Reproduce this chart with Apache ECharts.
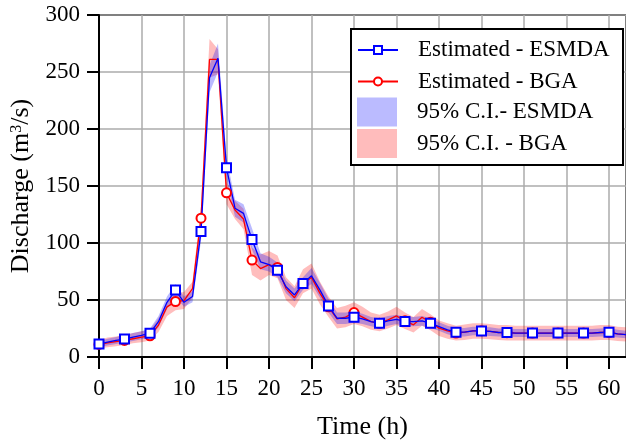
<!DOCTYPE html>
<html><head><meta charset="utf-8">
<script src="https://cdn.jsdelivr.net/npm/echarts@6/dist/echarts.min.js"></script>
<style>html,body{margin:0;padding:0;background:#fff}#c{width:626px;height:445px}</style>
</head><body><div id="c"></div>
<script>
const hours = [0,1,2,3,4,5,6,7,8,9,10,11,12,13,14,15,16,17,18,19,20,21,22,23,24,25,26,27,28,29,30,31,32,33,34,35,36,37,38,39,40,41,42,43,44,45,46,47,48,49,50,51,52,53,54,55,56,57,58,59,60,61,62];
const esmda = [11.3,13,14.5,15.7,17.5,19,20.9,31,48,58.7,48,53,110,245,262,166,130.5,126,103,83.5,81,76,61.6,54.4,64.5,71.2,58.7,44.8,34,34,34.9,33.4,31.1,29.6,31.7,33.1,31.1,31.1,31.7,29.6,26.7,23.8,21.8,21.8,22.9,22.9,22.4,21.5,21.5,21,21,21,21,21,21,21,21,21,21,21.5,21.8,20.3,19.6];
const bga = [11,12.5,13.5,14.5,16,17.5,18.6,28,44,48.6,49.5,60,121.8,261,261,144,129,121,85,77.6,81,78.5,60,52,64.5,69.8,55.8,44,33.5,35,39,35,31,29.6,32.5,36,31.7,28.2,34.9,30.5,25.3,22.9,21,21.8,22.9,23,22.4,21.5,21.3,21,21,21,21,21,21,21,21,21,21,21.5,21.5,20.3,19.6];
const esmdaLow = [8.5,10,11.5,12.5,14,15.5,17,26,42,53,44,48,102,232,250,156,123,118,94,77,75,70,56,49,59,64,52,39,29,29,30,29,27,25.5,27.5,29,27,27,27.5,25.5,23,20,18,18,19,19,18.5,18,18,17.5,17.5,17.5,17.5,17.5,17.5,17.5,17.5,17.5,17.5,18,18,17,16.5];
const esmdaUp = [14,16,17.5,19,21,22.5,25,36,53,64,53,58,118,256,275,175,138,134,113,91,88,83,67,60,70,78,65,51,39,39,40,38,35,34,36,37,35,35,36,34,30.5,27.5,25.5,25.5,26.5,26.5,26,25,25,24.5,24.5,24.5,24.5,24.5,24.5,24.5,24.5,24.5,24.5,25,25.5,24,23];
const bgaLow = [7.5,8.5,9.5,10.5,12,13,14.5,22,36,41,42,52,112,245,248,134,121,112,72,67,72,69,50,43,56,60,46,35,25,26,29,27,24,22.5,25,28,24.5,21.5,27.5,23.5,18.5,16,14.5,15,16,16,15.5,15,14.5,14.5,14.5,14.5,14.5,14.5,14.5,14.5,14.5,14.5,14.5,15,15,14,13.5];
const bgaUp = [15,17,18,19.5,21,22.5,24,34,49,56,57,66,132,279,270,154,137,130,96,90,93,89,70,62,77,82,66,53,43,45,48,44,39,37,40,44,39,35,42,37.5,32,29.5,27.5,28.5,29.5,29.5,29,28,28,27.5,27.5,27.5,27.5,27.5,27.5,27.5,27.5,27.5,27.5,28,28,26.5,26];
const xTicks = {min:0, max:62, interval:5};
const yTicks = {min:0, max:300, interval:50};
const names = ['Estimated - ESMDA','Estimated - BGA','95% C.I.- ESMDA','95% C.I. - BGA'];

const FONT = 'Liberation Serif';
const marked = (arr, sym) => hours.map((h,i)=>({value:[h, arr[i]], symbol: (h % 3 === 0) ? sym : 'none'}));

function bandSeries(name, lo, up, fill){
  return {
    type:'custom', name:name, z:2, silent:true,
    itemStyle:{color:fill},
    data: hours.map((h,i)=>[h, lo[i], up[i]]),
    encode:{x:0, y:[1,2]},
    renderItem:function(params, api){
      if (params.dataIndex !== 0) return null;
      const top = hours.map((h,i)=>api.coord([h, up[i]]));
      const bot = hours.map((h,i)=>api.coord([h, lo[i]])).reverse();
      return {type:'polygon', shape:{points: top.concat(bot)},
        style:{fill:fill, stroke:null}};
    }
  };
}

const chart = echarts.init(document.getElementById('c'), null, {renderer:'canvas'});
const axisCommon = {
  axisLine:{show:true, lineStyle:{color:'#000', width:2}},
  axisTick:{show:true, inside:false, length:12, lineStyle:{color:'#000', width:2}},
  splitLine:{show:true, lineStyle:{color:'#ababab', width:1.5}},
  axisLabel:{color:'#000', fontFamily:FONT, fontSize:23}
};
chart.setOption({
  animation:false,
  backgroundColor:'#fff',
  grid:{left:99, top:15, width:529, height:344, show:true, borderColor:'#000', borderWidth:2},
  xAxis:Object.assign({}, axisCommon, {
    type:'value', min:xTicks.min, max:xTicks.max, interval:xTicks.interval,
    name:'Time (h)', nameLocation:'middle', nameGap:57,
    nameTextStyle:{color:'#000', fontFamily:FONT, fontSize:26},
    axisLabel:Object.assign({}, axisCommon.axisLabel, {margin:20, showMaxLabel:false})
  }),
  yAxis:Object.assign({}, axisCommon, {
    type:'value', min:yTicks.min, max:yTicks.max, interval:yTicks.interval,
    name:'Discharge (m{sup|3}/s)', nameLocation:'middle', nameGap:64,
    nameTextStyle:{color:'#000', fontFamily:FONT, fontSize:26,
      rich:{sup:{fontFamily:FONT, fontSize:16, verticalAlign:'top', padding:[0,0,10,0]}}},
    axisLabel:Object.assign({}, axisCommon.axisLabel, {margin:19})
  }),
  graphic:[{type:'rect', z:3, shape:{x:351, y:29, width:272, height:136},
    style:{fill:'#fff', stroke:'#000', lineWidth:2}}],
  legend:[
    {data:[names[0], names[1]], orient:'vertical', left:357, top:38, padding:0,
     itemWidth:40, itemHeight:10, itemGap:7.5, z:5,
     textStyle:{fontFamily:FONT, fontSize:23, color:'#000', lineHeight:24, padding:[0,0,0,15]}},
    {data:[{name:names[2], icon:'rect', itemStyle:{color:'#bbbbff'}},
           {name:names[3], icon:'rect', itemStyle:{color:'#ffbcbc'}}],
     orient:'vertical', left:357, top:97.5, padding:0,
     itemWidth:40, itemHeight:29, itemGap:2.5, z:5,
     textStyle:{fontFamily:FONT, fontSize:23, color:'#000', lineHeight:24, padding:[0,0,0,15]}}
  ],
  series:[
    bandSeries(names[3], bgaLow, bgaUp, 'rgba(255,0,0,0.26)'),
    bandSeries(names[2], esmdaLow, esmdaUp, 'rgba(0,0,255,0.27)'),
    {type:'line', name:names[1], data:marked(bga,'emptyCircle'), symbol:'emptyCircle', symbolSize:9,
     lineStyle:{color:'#ff0000', width:1.3}, itemStyle:{color:'#ff0000', borderWidth:1}, z:4},
    {type:'line', name:names[0], data:marked(esmda,'emptyRect'), symbol:'emptyRect', symbolSize:9,
     lineStyle:{color:'#0000ff', width:1.3}, itemStyle:{color:'#0000ff', borderWidth:1}, z:4}
  ]
});
</script></body></html>
